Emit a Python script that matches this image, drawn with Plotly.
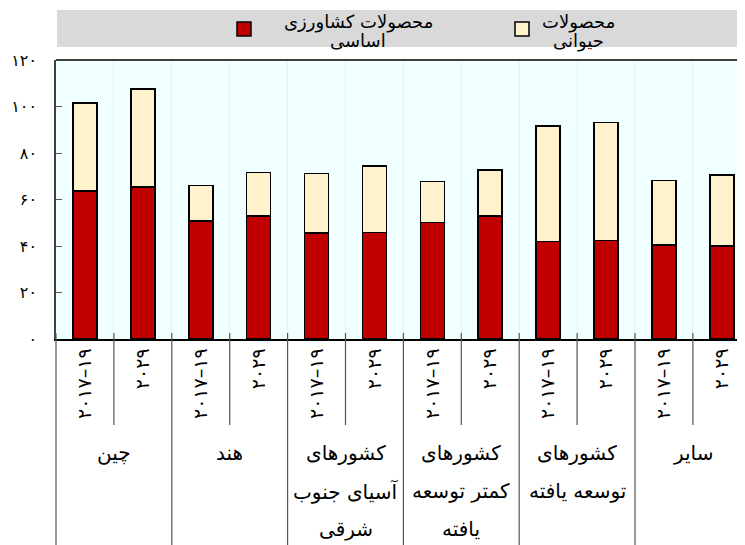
import plotly.graph_objects as go

# ---- data ----
groups = [
    ["چین"],
    ["هند"],
    ["کشورهای", "آسیای جنوب", "شرقی"],
    ["کشورهای", "کمتر توسعه", "یافته"],
    ["کشورهای", "توسعه یافته"],
    ["سایر"],
]
periods = ["۲۰۱۷–۱۹", "۲۰۲۹"]
basic_crops = [63.6, 65.4, 50.8, 52.8, 45.5, 45.8, 50.1, 52.8, 41.9, 42.3, 40.5, 39.9]
totals = [101.6, 107.4, 66.1, 71.7, 71.1, 74.4, 67.8, 72.7, 91.7, 93.2, 68.1, 70.5]
animal_products = [round(t - b, 1) for t, b in zip(totals, basic_crops)]
y_tickvals = [0, 20, 40, 60, 80, 100, 120]
y_ticktext = ["۰", "۲۰", "۴۰", "۶۰", "۸۰", "۱۰۰", "۱۲۰"]
series_lines = [["محصولات کشاورزی", "اساسی"], ["محصولات", "حیوانی"]]

FONT = "DejaVu Sans"
RED = "#C00000"
CREAM = "#FFF2CC"

n = len(groups) * len(periods)
xs = list(range(n))
ticktext = [periods[i % 2] for i in xs]

fig = go.Figure()
fig.add_trace(go.Bar(x=xs, y=basic_crops, name=series_lines[0][0],
                     marker=dict(color=RED, line=dict(color="black", width=1.6))))
fig.add_trace(go.Bar(x=xs, y=animal_products, name=series_lines[1][0],
                     marker=dict(color=CREAM, line=dict(color="black", width=1.6))))

OFF = 8  # page body margin
W, H = 745 - OFF, 545 - OFF
L = 56 - OFF
T = 60 - OFF
B = 545 - 339
R = 0
ph = H - T - B
pw = W - L - R

def py(pix):  # screen pixel y -> paper y
    return (H - B - (pix - OFF)) / ph

def px(pix):  # screen pixel x -> paper x
    return (pix - OFF - L) / pw

shapes = []
shapes.append(dict(type="rect", xref="paper", yref="paper", x0=px(57), x1=1.0, y0=py(47), y1=py(10),
                   fillcolor="#D9D9D9", line=dict(width=0), layer="below"))
shapes.append(dict(type="rect", xref="paper", yref="paper", x0=px(237), x1=px(251), y0=py(36), y1=py(22),
                   fillcolor=RED, line=dict(color="black", width=1.5)))
shapes.append(dict(type="rect", xref="paper", yref="paper", x0=px(515), x1=px(529), y0=py(36), y1=py(22),
                   fillcolor=CREAM, line=dict(color="black", width=1.5)))
shapes.append(dict(type="line", xref="paper", yref="paper", x0=0, x1=1, y0=1, y1=1,
                   line=dict(color="#404040", width=2)))
shapes.append(dict(type="line", xref="paper", yref="paper", x0=0, x1=0, y0=py(333), y1=py(545),
                   line=dict(color="#555555", width=1.2)))
for g in range(len(groups)):
    inner = 2 * g + 0.5
    outer = 2 * g + 1.5
    shapes.append(dict(type="line", xref="x", yref="paper", x0=inner, x1=inner, y0=py(333), y1=py(425),
                       line=dict(color="#555555", width=1.2)))
    shapes.append(dict(type="line", xref="x", yref="paper", x0=outer, x1=outer, y0=py(333), y1=py(545),
                       line=dict(color="#555555", width=1.2)))

annotations = []
legend_centers = [358, 578]
for k, lines in enumerate(series_lines):
    for i, line in enumerate(lines):
        annotations.append(dict(xref="paper", yref="paper", x=px(legend_centers[k]), y=py(22 + 18.5 * i),
                                text=line, showarrow=False, font=dict(family=FONT, size=18, color="black"),
                                xanchor="center", yanchor="middle"))
for g, lines in enumerate(groups):
    for i, line in enumerate(lines):
        annotations.append(dict(xref="x", yref="paper", x=2 * g + 0.5, y=py(453 + 38 * i), text=line,
                                showarrow=False, font=dict(family=FONT, size=20, color="black"),
                                xanchor="center", yanchor="middle"))

fig.update_layout(
    width=W, height=H,
    margin=dict(l=L, r=R, t=T, b=B, autoexpand=False),
    barmode="stack", bargap=0.585,
    paper_bgcolor="white", plot_bgcolor="#F0FFFF",
    showlegend=False,
    font=dict(family=FONT, size=17, color="black"),
    shapes=shapes, annotations=annotations,
    xaxis=dict(range=[-0.5, 11.4], tickmode="array", tickvals=xs, ticktext=ticktext, tickangle=-90,
               tickfont=dict(family=FONT, size=19), showline=True, linecolor="black", linewidth=1.5,
               ticks="", showgrid=False, zeroline=False, fixedrange=True,
               minor=dict(tickmode="array", tickvals=[i + 0.5 for i in xs], showgrid=True,
                          gridcolor="#E3F3F3", gridwidth=1, ticks="")),
    yaxis=dict(range=[0, 120], tickmode="array", tickvals=y_tickvals, ticktext=y_ticktext,
               ticks="inside", ticklen=6, tickcolor="#555555", showline=True, linecolor="#404040",
               linewidth=1.5, showgrid=False, zeroline=False, ticklabelstandoff=14,
               tickfont=dict(family=FONT, size=16)),
)

fig.write_html("out.html")
